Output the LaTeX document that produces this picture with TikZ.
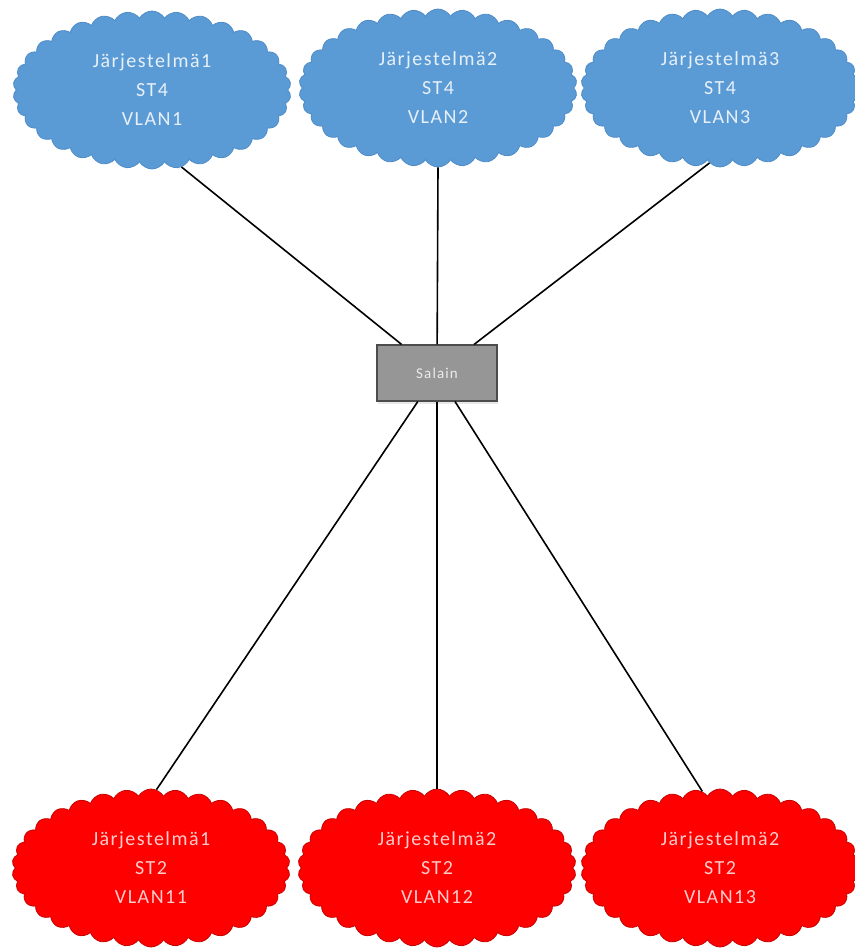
\documentclass[tikz,border=0pt]{standalone}
\usepackage{fontspec}
\setmainfont{Carlito}
\newfontfamily\spacedfont[LetterSpace=7.5]{Carlito}
\definecolor{CloudBlue}{RGB}{91,155,213}
\definecolor{CloudBlueEdge}{RGB}{78,140,200}
\definecolor{CloudRed}{RGB}{255,0,0}
\definecolor{CloudRedEdge}{RGB}{200,0,0}
\definecolor{SwitchGray}{RGB}{150,150,150}
\usepackage{tikz}
\usetikzlibrary{
    positioning,
    shapes.symbols,
    shadows
}

\begin{document}
\begin{tikzpicture}[
    x=1pt,
    y=-1pt,
    systemcloud/.style={
        cloud,
        cloud puffs=34,
        cloud puff arc=120,
        cloud ignores aspect,
        minimum width=278pt,
        minimum height=158pt,
        align=center,
        line width=0.8pt,
        font=\spacedfont\fontsize{20}{29}\selectfont
    },
    topcloud/.style={
        systemcloud,
        fill=CloudBlue,
        draw=CloudBlueEdge,
        text=CloudBlue!15!white
    },
    bottomcloud/.style={
        systemcloud,
        fill=CloudRed,
        draw=CloudRedEdge,
        text=CloudRed!20!white
    },
    switchbox/.style={
        rectangle,
        fill=SwitchGray,
        draw=black!70,
        line width=1.2pt,
        minimum width=120pt,
        minimum height=56pt,
        text=white!92!black,
        font=\spacedfont\fontsize{15}{17}\selectfont,
        drop shadow={opacity=0.18,shadow xshift=1pt,shadow yshift=-3pt}
    },
    link/.style={
        line width=1.6pt,
        black
    }
]
%
    \useasboundingbox
    (0,0)
    rectangle
    (854,952);
%
    \node[
        switchbox
    ]
    (salain) at (437,373) {
        Salain
    };
%
    \node[
        topcloud
    ]
    (top1) at (152,90) {
        Järjestelmä1\\ST4\\VLAN1
    };
%
    \node[
        topcloud
    ]
    (top2) at (438,88) {
        Järjestelmä2\\ST4\\VLAN2
    };
%
    \node[
        topcloud
    ]
    (top3) at (720,88) {
        Järjestelmä3\\ST4\\VLAN3
    };
%
    \node[
        bottomcloud
    ]
    (bot1) at (151,868) {
        Järjestelmä1\\ST2\\VLAN11
    };
%
    \node[
        bottomcloud
    ]
    (bot2) at (437,868) {
        Järjestelmä2\\ST2\\VLAN12
    };
%
    \node[
        bottomcloud
    ]
    (bot3) at (720,868) {
        Järjestelmä2\\ST2\\VLAN13
    };
%
    \draw[link] (top1.-69) -- (salain);
    \draw[link] (top2.south) -- (salain);
    \draw[link] (top3.262) -- (salain);
%
    \draw[link] (bot1.86) -- (salain);
    \draw[link] (bot2.north) -- (salain);
    \draw[link] (bot3.103) -- (salain);
%
\end{tikzpicture}
\end{document}
